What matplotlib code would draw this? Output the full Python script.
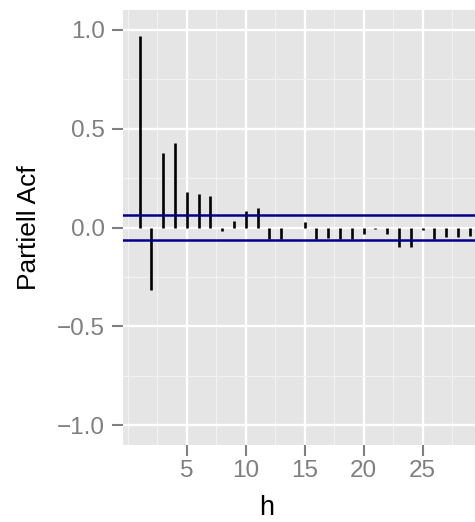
import numpy as np
import matplotlib
matplotlib.use('Agg')
import matplotlib.pyplot as plt

plt.rcParams['font.family'] = ['Liberation Sans', 'DejaVu Sans']

# partial autocorrelation per lag
lags = np.arange(1, 30)
pacf = [0.966, -0.314, 0.377, 0.427, 0.179, 0.170, 0.161, -0.019, 0.033, 0.085,
        0.097, -0.060, -0.060, -0.005, 0.026, -0.060, -0.052, -0.060, -0.060, -0.035,
        -0.010, -0.033, -0.097, -0.097, -0.013, -0.058, -0.047, -0.047, -0.043]
conf = 0.065

W, H = 475, 522
fig = plt.figure(figsize=(W/100, H/100), dpi=100)
# panel runs past the right edge like in the reference
ax = fig.add_axes([123/W, 77/H, 363.4/W, 435/H])
ax.set_facecolor('#E5E5E5')
for s in ax.spines.values():
    s.set_visible(False)

ax.set_xlim(-0.4, 30.4)
ax.set_ylim(-1.1, 1.1)

ax.set_xticks([5, 10, 15, 20, 25])
ax.set_xticks([0, 2.5, 7.5, 12.5, 17.5, 22.5, 27.5], minor=True)
ax.set_yticks([-1.0, -0.5, 0.0, 0.5, 1.0])
ax.set_yticks([-0.75, -0.25, 0.25, 0.75], minor=True)
ax.set_yticklabels(['\u22121.0', '\u22120.5', '0.0', '0.5', '1.0'])

ax.grid(which='major', color='white', lw=1.7)
ax.grid(which='minor', color='#F2F2F2', lw=0.8)
ax.set_axisbelow(True)

ax.tick_params(which='major', length=8, width=1.5, color='#7F7F7F',
               labelcolor='#7F7F7F', labelsize=17.5)
ax.tick_params(axis='y', pad=5)
ax.tick_params(axis='x', pad=3)
ax.tick_params(which='minor', length=0)

ax.vlines(lags, 0, pacf, color='black', lw=1.9)
ax.axhline(conf, color='#00008B', lw=1.8)
ax.axhline(-conf, color='#00008B', lw=1.8)

ax.set_ylabel('Partiell Acf', fontsize=19)
ax.yaxis.set_label_coords(-0.225, 0.5)
ax.set_xlabel('h', fontsize=19.5)
ax.xaxis.set_label_coords(0.396, -0.115)

fig.savefig('out.png', dpi=100)
